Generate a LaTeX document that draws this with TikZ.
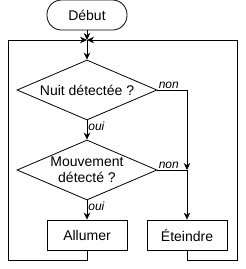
\documentclass[tikz,border=0pt]{standalone}
\usepackage{fontspec}
\setmainfont{Liberation Sans}
\usetikzlibrary{shapes.geometric,arrows.meta}
\begin{document}
\begin{tikzpicture}[x=1pt,y=-1pt,line width=0.8pt,
  flow/.style={-{Stealth[length=7pt,width=6.5pt]}},
  box/.style={draw,fill=white,minimum width=80pt,minimum height=30pt,inner sep=0pt,font=\fontsize{14}{16}\selectfont},
  terminal/.style={box,rounded corners=14.5pt},
  test/.style={draw,fill=white,diamond,aspect=2.333,minimum width=140pt,minimum height=60pt,inner sep=0pt,align=center,font=\fontsize{14}{16}\selectfont},
  answer/.style={font=\fontsize{12}{14}\selectfont\itshape,inner sep=1pt}]
\useasboundingbox (0,0) rectangle (246,269);

\node[terminal] (debut) at (87,15) {Début};
\coordinate (merge) at (87,40);
\node[test] (nuit) at (87,90) {Nuit détectée ?};
\node[test] (mouv) at (87,170) {Mouvement\\détecté ?};
\node[box] (allumer) at (87,235) {Allumer};
\node[box] (eteindre) at (187,235) {Éteindre};
\coordinate (join) at (187,170);
\coordinate (loopL) at (8,260);
\coordinate (loopR) at (237,260);

\draw[flow] (debut) -- (merge);
\draw[flow] (merge) -- (nuit);
\draw[flow] (nuit) -- node[answer,anchor=north west,pos=0] {oui} (mouv);
\draw[flow] (mouv) -- node[answer,anchor=north west,pos=0] {oui} (allumer);
\draw[flow] (nuit.east) -- node[answer,anchor=south west,pos=0] {non} (join |- nuit.east) -- (join);
\draw (mouv.east) -- node[answer,anchor=south west,pos=0] {non} (join);
\draw[flow] (join) -- (eteindre);
\draw[flow] (allumer) |- (loopL) |- (merge);
\draw[flow] (eteindre) |- (loopR) |- (merge);
\end{tikzpicture}
\end{document}
